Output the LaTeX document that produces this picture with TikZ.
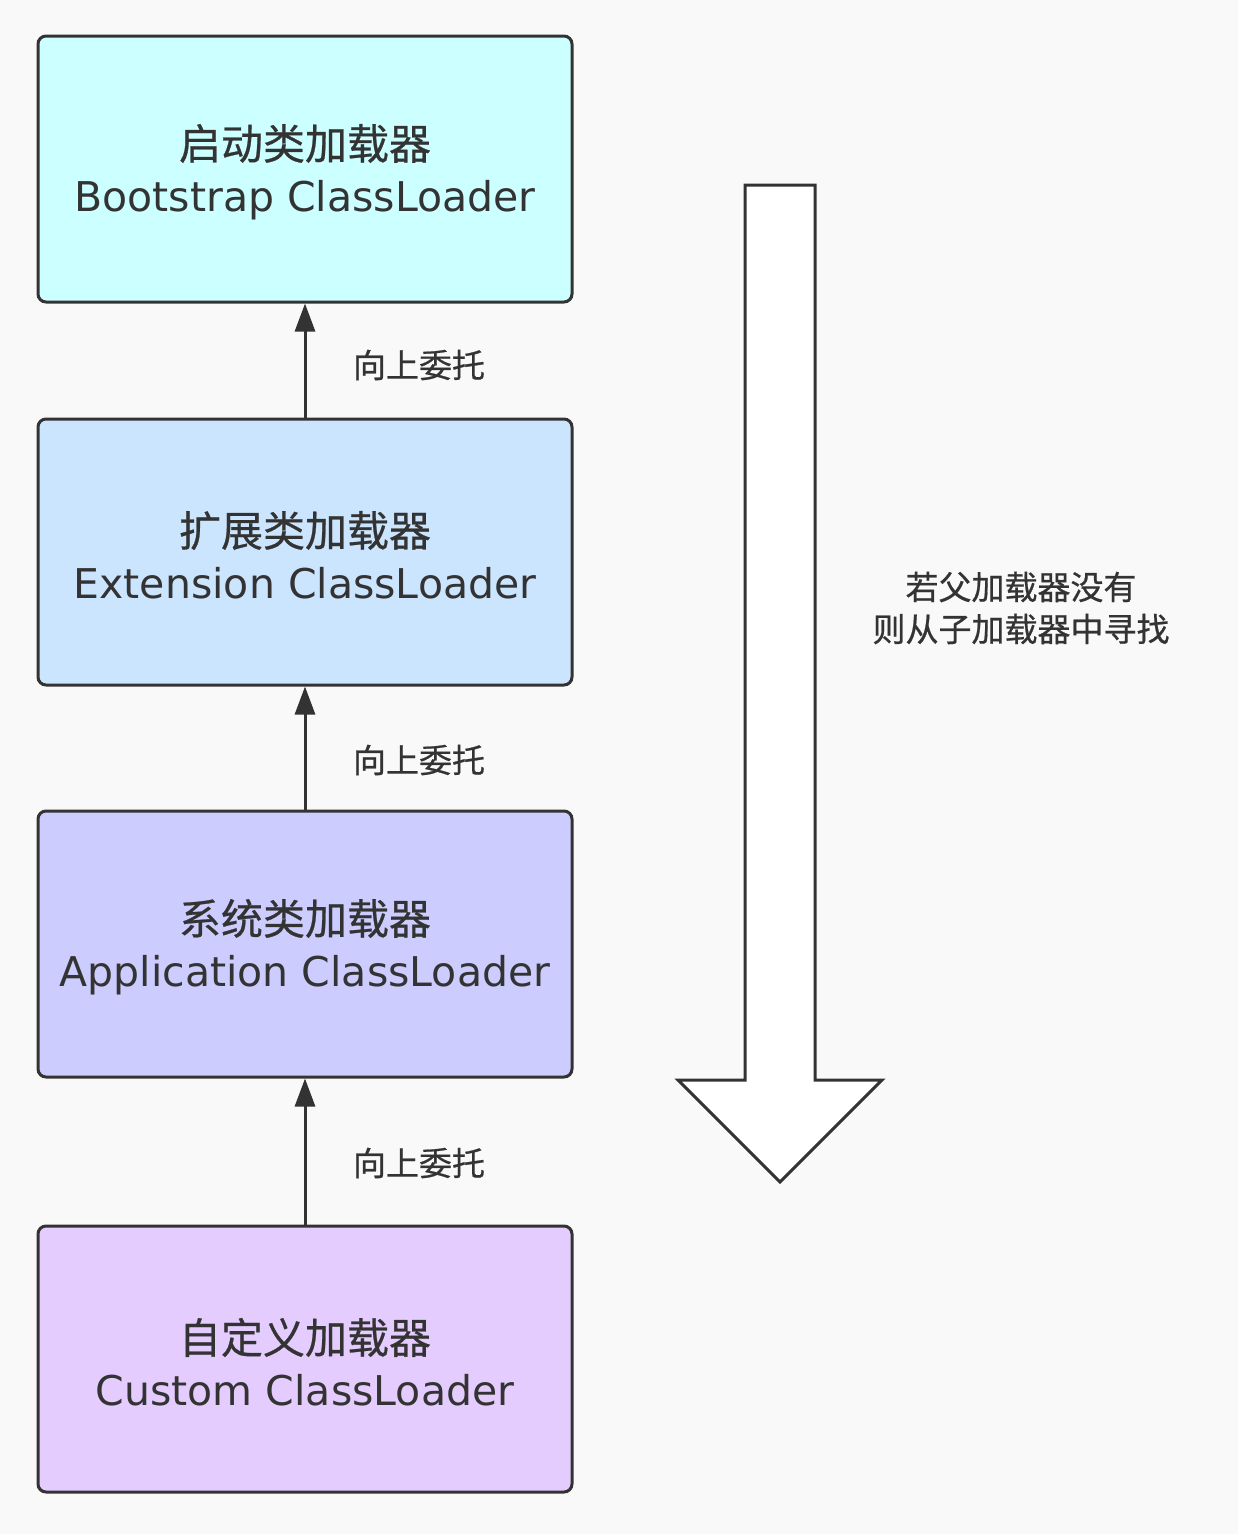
\documentclass[tikz,border=0pt]{standalone}
\usepackage{fontspec}
\setmainfont{Noto Sans CJK SC}[FakeBold=0.6]
\newfontfamily\latinfont{DejaVu Sans}
\usetikzlibrary{arrows.meta}
\definecolor{bg}{HTML}{F9F9F9}
\definecolor{ln}{HTML}{333333}
\definecolor{cA}{HTML}{CCFFFF}
\definecolor{cB}{HTML}{CCE5FF}
\definecolor{cC}{HTML}{CCCCFF}
\definecolor{cD}{HTML}{E5CCFF}
\newcommand{\lat}[1]{{\latinfont\fontsize{41}{52}\selectfont #1}}
\tikzset{
  loader/.style={draw=ln, line width=3pt, rounded corners=8pt, minimum width=534pt, minimum height=266pt, inner sep=0pt, align=center, text=ln, font=\fontsize{42}{52}\selectfont},
  txt/.style={inner sep=0pt, align=center, text=ln, font=\fontsize{42}{52}\selectfont},
  up/.style={draw=ln, line width=3pt, -{Triangle[width=20pt,length=28pt]}},
  lbl/.style={text=ln, font=\fontsize{33}{42}\selectfont, inner sep=0pt, align=center},
  bigarrow/.style={draw=ln, line width=3pt, fill=white, line join=miter}
}
\begin{document}
\begin{tikzpicture}[x=1pt,y=-1pt]
\fill[bg] (0,0) rectangle (1238,1534);
\useasboundingbox (0,0) rectangle (1238,1534);
\node[loader, fill=cA] (boot) at (305,169) {};
\node[loader, fill=cB] (ext) at (305,552) {};
\node[loader, fill=cC] (app) at (305,944) {};
\node[loader, fill=cD] (cust) at (305,1359) {};
\node[txt] (tboot) at (305,172) {启动类加载器\\\lat{Bootstrap ClassLoader}};
\node[txt] (text) at (305,555) {扩展类加载器\\\lat{Extension ClassLoader}};
\node[txt] (tapp) at (305,947) {系统类加载器\\\lat{Application ClassLoader}};
\node[txt] (tcust) at (305,1362) {自定义加载器\\\lat{Custom ClassLoader}};
\draw[up] (ext.north) -- (boot.south);
\draw[up] (app.north) -- (ext.south);
\draw[up] (cust.north) -- (app.south);
\node[lbl] (l1) at (419,365) {向上委托};
\node[lbl] (l2) at (419,760) {向上委托};
\node[lbl] (l3) at (419,1163) {向上委托};
\draw[bigarrow] (745,185) -- (815,185) -- (815,1080) -- (882,1080) -- (780,1182) -- (678,1080) -- (745,1080) -- cycle;
\node[lbl] (note) at (1021,608) {若父加载器没有\\则从子加载器中寻找};
\end{tikzpicture}
\end{document}
